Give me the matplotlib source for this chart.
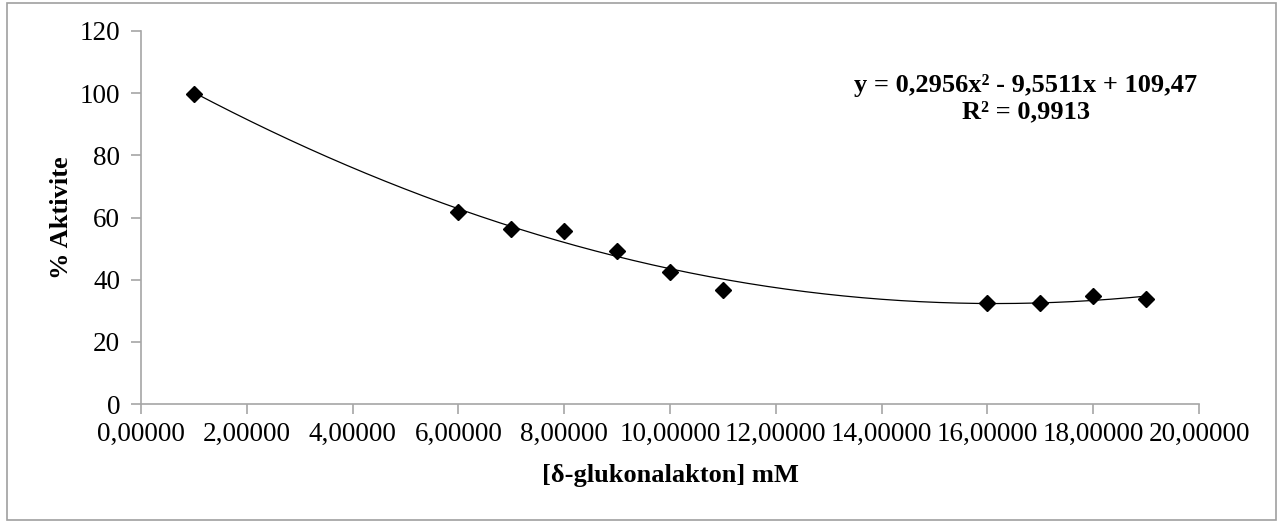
import numpy as np
import matplotlib
matplotlib.use('Agg')
import matplotlib.pyplot as plt
from matplotlib.patches import Rectangle

# konsantrasyon (mM) ve % aktivite
konsantrasyon = [1, 6, 7, 8, 9, 10, 11, 16, 17, 18, 19]
aktivite = [99.7, 61.7, 56.2, 55.7, 49.3, 42.4, 36.7, 32.4, 32.4, 34.7, 33.9]

# Excel trend cizgisi katsayilari (2. derece polinom)
katsayi = [0.2956, -9.5511, 109.47]
denklem = 'y = 0,2956x² - 9,5511x + 109,47\nR² = 0,9913'

plt.rcParams['font.family'] = ['Liberation Serif', 'DejaVu Serif']

fig = plt.figure(figsize=(12.8, 5.23), dpi=100)
ax = fig.add_axes([141/1280, 1-404/523, (1199-141)/1280, (404-31)/523])

xs = np.linspace(min(konsantrasyon), max(konsantrasyon), 300)
ax.plot(xs, np.polyval(katsayi, xs), color='black', lw=0.9, zorder=2)
ax.plot(konsantrasyon, aktivite, 'D', color='black', ms=8.3, zorder=3)

ax.set_xlim(0, 20)
ax.set_ylim(0, 120)
ax.set_xticks(np.arange(0, 21, 2))
ax.set_xticklabels([('%.5f' % v).replace('.', ',') for v in np.arange(0, 21, 2)])
ax.set_yticks(np.arange(0, 121, 20))

for s in ['top', 'right']:
    ax.spines[s].set_visible(False)
for s in ['left', 'bottom']:
    ax.spines[s].set_color('#a6a6a6')
    ax.spines[s].set_linewidth(1.2)
ax.tick_params(axis='both', colors='#a6a6a6', labelcolor='black', labelsize=19.5,
               length=7, width=1.2, direction='out')
ax.tick_params(axis='x', pad=6)
ax.tick_params(axis='y', pad=8)

ax.set_xlabel('[δ-glukonalakton] mM', fontsize=19, fontweight='bold', labelpad=12)
ax.set_ylabel('% Aktivite', fontsize=19, fontweight='bold', labelpad=5)

fig.text(1026/1280, 1-99/523, denklem, ha='center', va='center', fontsize=19,
         fontweight='bold', linespacing=1.2)

fig.patches.append(Rectangle((7/1280, 1-520/523), (1276-7)/1280, (520-3)/523,
                             transform=fig.transFigure, fill=False,
                             edgecolor='#a0a0a0', lw=1.2))

fig.savefig('out.png', dpi=100)
